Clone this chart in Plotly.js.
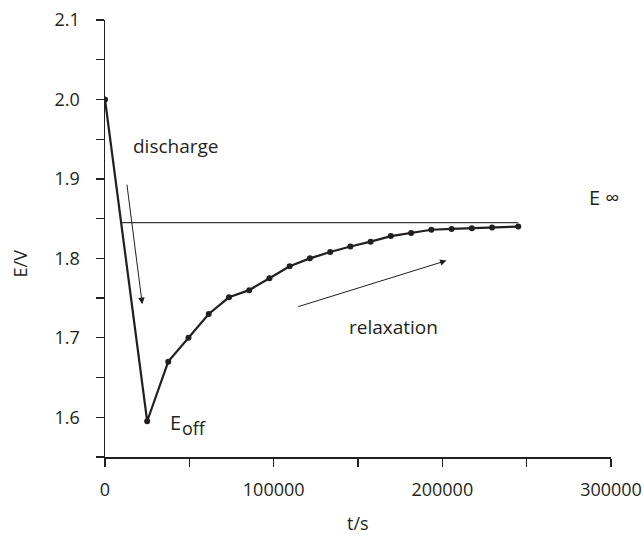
<!DOCTYPE html>
<html>
<head>
<meta charset="utf-8">
<script src="https://cdn.plot.ly/plotly-3.0.1.min.js"></script>
<style>
  html, body { margin: 0; padding: 0; background: #ffffff; }
  #chart { width: 644px; height: 536px; }
</style>
</head>
<body>
<div id="chart"></div>
<script>
// Cell potential during discharge and the following open-circuit relaxation
const timeSec = [0, 25000, 37500, 49500, 61500, 73500, 85500, 97500, 109500,
                 121500, 133500, 145500, 157500, 169500, 181500, 193500,
                 205500, 217500, 229500, 245000];
const potentialV = [2.000, 1.595, 1.670, 1.700, 1.730, 1.751, 1.760, 1.775, 1.790,
                    1.800, 1.808, 1.815, 1.821, 1.828, 1.832, 1.836,
                    1.837, 1.838, 1.839, 1.840];

// Asymptotic rest potential E∞
const eInfTime = [10000, 245000];
const eInfValue = [1.845, 1.845];

const xTicks = [0, 100000, 200000, 300000];
const xTickText = ['0', '100000', '200000', '300000'];
const yTicks = [1.6, 1.7, 1.8, 1.9, 2.0, 2.1];
const yTickText = ['1.6', '1.7', '1.8', '1.9', '2.0', '2.1'];

const ink = '#231f20';
const fontFam = '"Open Sans", "Noto Sans", sans-serif';

const traces = [
  {
    x: eInfTime, y: eInfValue,
    type: 'scatter', mode: 'lines',
    line: { color: '#3a3a3a', width: 1.1 },
    hoverinfo: 'skip', showlegend: false
  },
  {
    x: timeSec, y: potentialV,
    type: 'scatter', mode: 'lines+markers',
    line: { color: ink, width: 2.2 },
    marker: { color: ink, size: 6 },
    showlegend: false
  }
];

const arrow = (x, y, ax, ay) => ({
  x: x, y: y, ax: ax, ay: ay,
  xref: 'x', yref: 'y', axref: 'x', ayref: 'y',
  text: '', showarrow: true,
  arrowhead: 2, arrowsize: 1.3, arrowwidth: 1, arrowcolor: ink
});

const label = (x, y, text, xanchor, size, yshift) => ({
  x: x, y: y, xref: 'x', yref: 'y',
  text: text, showarrow: false,
  xanchor: xanchor || 'center', yanchor: 'middle',
  yshift: yshift || 0,
  font: { family: fontFam, size: size || 19, color: ink }
});

const layout = {
  width: 644, height: 536,
  margin: { l: 105, r: 33, t: 20, b: 79 },
  paper_bgcolor: '#ffffff', plot_bgcolor: '#ffffff',
  font: { family: fontFam, size: 18, color: ink },
  showlegend: false,
  xaxis: {
    range: [0, 300000],
    tickvals: xTicks, ticktext: xTickText,
    ticks: 'outside', ticklen: 8, tickwidth: 1.2, tickcolor: ink,
    minor: { dtick: 50000, ticks: 'outside', ticklen: 8, tickwidth: 1.2, tickcolor: ink },
    showline: true, linecolor: ink, linewidth: 1.5,
    showgrid: false, zeroline: false,
    ticklabelstandoff: 8,
    tickfont: { family: fontFam, size: 18, color: ink }
  },
  yaxis: {
    range: [1.55, 2.1],
    tickvals: yTicks, ticktext: yTickText,
    ticks: 'outside', ticklen: 8, tickwidth: 1.2, tickcolor: ink,
    minor: { dtick: 0.05, tick0: 1.55, ticks: 'outside', ticklen: 8, tickwidth: 1.2, tickcolor: ink },
    showline: true, linecolor: ink, linewidth: 1.5,
    showgrid: false, zeroline: false,
    ticklabelstandoff: 12,
    tickfont: { family: fontFam, size: 18, color: ink }
  },
  annotations: [
    arrow(22100, 1.7424, 12900, 1.8946),
    arrow(202500, 1.7972, 113600, 1.7386),
    label(42000, 1.9415, 'discharge'),
    label(171000, 1.7138, 'relaxation'),
    label(285700, 1.877, 'E ∞', 'left', 20),
    label(37300, 1.594, 'E', 'left', 20),
    label(44200, 1.594, 'off', 'left', 18, -6),
    // axis titles
    {
      x: 0.5, y: -0.150, xref: 'paper', yref: 'paper',
      text: 't/s', showarrow: false, xanchor: 'center', yanchor: 'middle',
      font: { family: fontFam, size: 18, color: ink }
    },
    {
      x: -0.168, y: 0.443, xref: 'paper', yref: 'paper',
      text: 'E/V', showarrow: false, textangle: -90,
      xanchor: 'center', yanchor: 'middle',
      font: { family: fontFam, size: 18, color: ink }
    }
  ]
};

Plotly.newPlot('chart', traces, layout, { displayModeBar: false, staticPlot: true });
</script>
</body>
</html>
